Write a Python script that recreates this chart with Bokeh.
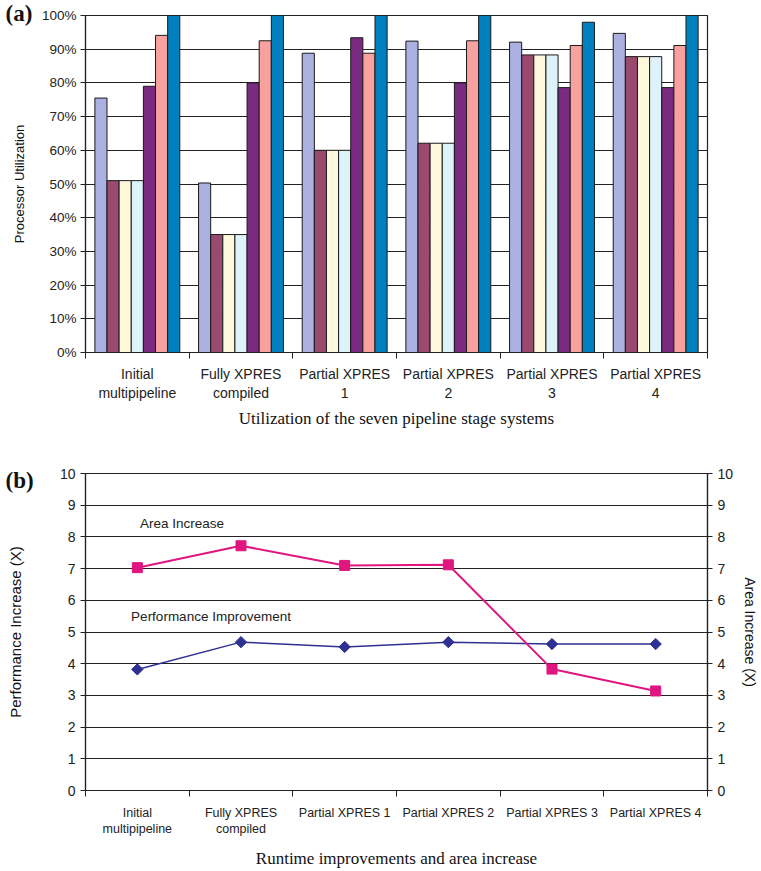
from bokeh.plotting import figure
from bokeh.models import FixedTicker, NumeralTickFormatter, Range1d, LinearAxis, Label, Title
from bokeh.layouts import column
from bokeh.embed import file_html
from bokeh.resources import INLINE

# ---------------- data ----------------
cats_a = ["Initial\nmultipipeline", "Fully XPRES\ncompiled", "Partial XPRES\n1",
          "Partial XPRES\n2", "Partial XPRES\n3", "Partial XPRES\n4"]
stage1 = [0.755, 0.503, 0.888, 0.924, 0.921, 0.947]
stage2 = [0.510, 0.350, 0.600, 0.621, 0.883, 0.878]
stage3 = [0.510, 0.350, 0.600, 0.621, 0.883, 0.878]
stage4 = [0.510, 0.350, 0.600, 0.621, 0.883, 0.878]
stage5 = [0.790, 0.800, 0.934, 0.800, 0.786, 0.786]
stage6 = [0.941, 0.925, 0.888, 0.925, 0.911, 0.911]
stage7 = [1.000, 1.000, 1.000, 1.000, 0.980, 1.000]
stage_colors = ["#aab1e0", "#9b4a6f", "#fdf8dc", "#def2f9", "#7b2b7f", "#f9a19e", "#0080bf"]

cats_b = ["Initial\nmultipipeline", "Fully XPRES\ncompiled", "Partial XPRES 1",
          "Partial XPRES 2", "Partial XPRES 3", "Partial XPRES 4"]
area_increase = [7.03, 7.72, 7.10, 7.12, 3.83, 3.14]
perf_increase = [3.82, 4.68, 4.53, 4.68, 4.62, 4.62]

SANS = "Liberation Sans"
SERIF = "Liberation Serif"
GRID = "#222222"

# ---------------- (a) bar chart ----------------
p1 = figure(width=761, height=438, min_border_left=85, min_border_right=27,
            min_border_top=15, min_border_bottom=86,
            x_range=Range1d(0, 6), y_range=Range1d(0, 1),
            output_backend="svg", toolbar_location=None, tools="")
p1.title = Title(text="(a)", align="left", offset=-80, standoff=-20,
                 text_font=SERIF, text_font_style="bold", text_font_size="23px",
                 text_color="#111111")

bw = 0.117
stages = [stage1, stage2, stage3, stage4, stage5, stage6, stage7]
for i, (vals, col) in enumerate(zip(stages, stage_colors)):
    xs = [j + 0.5 + (i - 3) * bw for j in range(len(cats_a))]
    p1.vbar(x=xs, top=vals, width=bw, fill_color=col, line_color="#1a1a1a", line_width=1)

p1.xgrid.grid_line_color = None
p1.ygrid.grid_line_color = GRID
p1.ygrid.grid_line_width = 1.2
p1.ygrid.ticker = FixedTicker(ticks=[i / 10 for i in range(11)])
p1.outline_line_color = GRID
p1.outline_line_width = 1.2

p1.yaxis.ticker = FixedTicker(ticks=[i / 10 for i in range(11)])
p1.yaxis.formatter = NumeralTickFormatter(format="0%")
p1.yaxis.axis_label = "Processor Utilization"
p1.yaxis.axis_label_text_font = SANS
p1.yaxis.axis_label_text_font_size = "13px"
p1.yaxis.axis_label_text_font_style = "normal"
p1.yaxis.axis_label_standoff = 12
p1.yaxis.major_label_text_font = SANS
p1.yaxis.major_label_text_font_size = "13.5px"
p1.yaxis.major_tick_out = 5
p1.yaxis.major_tick_in = 0
p1.yaxis.major_label_standoff = 4

p1.xaxis.ticker = FixedTicker(ticks=[j + 0.5 for j in range(6)], minor_ticks=list(range(7)))
p1.xaxis.major_label_overrides = {j + 0.5: c for j, c in enumerate(cats_a)}
p1.xaxis.major_tick_out = 0
p1.xaxis.major_tick_in = 0
p1.xaxis.minor_tick_out = 6
p1.xaxis.minor_tick_in = 0
p1.xaxis.major_label_standoff = 7
p1.xaxis.major_label_text_font = SANS
p1.xaxis.major_label_text_font_size = "14px"
p1.xaxis.axis_label = "Utilization of the seven pipeline stage systems"
p1.xaxis.axis_label_text_font = SERIF
p1.xaxis.axis_label_text_font_size = "17px"
p1.xaxis.axis_label_text_font_style = "normal"
p1.xaxis.axis_label_standoff = 5
for ax in (p1.xaxis[0], p1.yaxis[0]):
    ax.axis_line_color = GRID
    ax.axis_line_width = 1.2
    ax.major_label_text_color = "#222222"
    ax.axis_label_text_color = "#111111"
p1.yaxis.major_tick_line_color = GRID
p1.yaxis.minor_tick_line_color = None
p1.xaxis.major_tick_line_color = None
p1.xaxis.minor_tick_line_color = GRID

# ---------------- (b) line chart ----------------
p2 = figure(width=761, height=433, min_border_left=85, min_border_right=48,
            min_border_top=35, min_border_bottom=75,
            x_range=Range1d(0, 6), y_range=Range1d(0, 10),
            output_backend="svg", toolbar_location=None, tools="")
p2.title = Title(text="(b)", align="left", offset=-80, standoff=-38,
                 text_font=SERIF, text_font_style="bold", text_font_size="23px",
                 text_color="#111111")
p2.extra_y_ranges = {"area": Range1d(0, 10)}
right_axis = LinearAxis(y_range_name="area", axis_label="Area Increase (X)")
p2.add_layout(right_axis, "right")

xc = [j + 0.5 for j in range(len(cats_b))]
NAVY = "#2e3192"
MAG = "#e0157f"
p2.line(xc, perf_increase, line_color=NAVY, line_width=1.5)
p2.scatter(xc, perf_increase, marker="square", angle=0.785398, size=8,
           fill_color=NAVY, line_color=NAVY)
p2.line(xc, area_increase, line_color=MAG, line_width=2, y_range_name="area")
p2.scatter(xc, area_increase, marker="square", size=10, fill_color=MAG, line_color=MAG,
           y_range_name="area")

p2.xgrid.grid_line_color = None
p2.ygrid.grid_line_color = GRID
p2.ygrid.grid_line_width = 1.2
p2.ygrid.ticker = FixedTicker(ticks=list(range(11)))
p2.outline_line_color = GRID
p2.outline_line_width = 1.2

for ax, lab, fs in ((p2.yaxis[0], "Performance Increase (X)", "15px"),
                    (right_axis, "Area Increase (X)", "14px")):
    ax.ticker = FixedTicker(ticks=list(range(11)))
    ax.axis_label = lab
    ax.axis_label_text_font = SANS
    ax.axis_label_text_font_size = fs
    ax.axis_label_text_font_style = "normal"
    ax.axis_label_text_color = "#111111"
    ax.major_label_text_font = SANS
    ax.major_label_text_font_size = "14px"
    ax.major_label_text_color = "#222222"
    ax.major_tick_out = 5
    ax.major_tick_in = 0
    ax.minor_tick_line_color = None
    ax.axis_line_color = GRID
    ax.axis_line_width = 1.2
    ax.major_tick_line_color = GRID
    ax.major_label_standoff = 5
p2.yaxis[0].axis_label_standoff = 33
right_axis.axis_label_standoff = 6

xb = p2.xaxis[0]
xb.ticker = FixedTicker(ticks=xc, minor_ticks=list(range(7)))
xb.major_label_overrides = {x: c for x, c in zip(xc, cats_b)}
xb.major_tick_line_color = None
xb.major_tick_out = 0
xb.major_tick_in = 0
xb.minor_tick_out = 6
xb.minor_tick_in = 0
xb.minor_tick_line_color = GRID
xb.axis_line_color = GRID
xb.axis_line_width = 1.2
xb.major_label_standoff = 9
xb.major_label_text_font = SANS
xb.major_label_text_font_size = "12.5px"
xb.major_label_text_color = "#222222"
xb.axis_label = "Runtime improvements and area increase"
xb.axis_label_text_font = SERIF
xb.axis_label_text_font_size = "17px"
xb.axis_label_text_font_style = "normal"
xb.axis_label_text_color = "#111111"
xb.axis_label_standoff = 10

p2.add_layout(Label(x=0.525, y=8.42, text="Area Increase", text_font=SANS,
                    text_font_size="13.5px", text_baseline="middle", text_align="left",
                    text_color="#222222"))
p2.add_layout(Label(x=0.44, y=5.48, text="Performance Improvement", text_font=SANS,
                    text_font_size="13.5px", text_baseline="middle", text_align="left",
                    text_color="#222222"))

layout = column(p1, p2, spacing=0)
open("out.html", "w").write(file_html(layout, INLINE))
